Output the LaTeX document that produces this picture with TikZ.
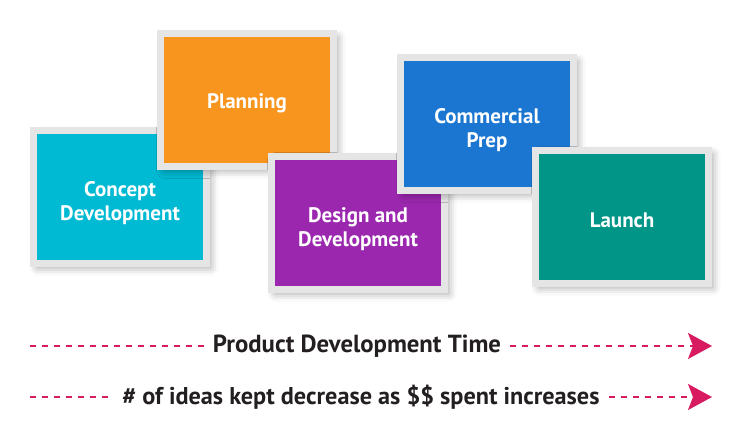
\documentclass[tikz,border=0pt]{standalone}
\usepackage{fontspec}
\setmainfont{PT Sans}
\usetikzlibrary{arrows.meta,shadows.blur}
\definecolor{frameC}{HTML}{E5E5E5}
\definecolor{conceptC}{HTML}{00BAD3}
\definecolor{planC}{HTML}{F7951F}
\definecolor{designC}{HTML}{9B27AF}
\definecolor{commC}{HTML}{1B76D1}
\definecolor{launchC}{HTML}{019587}
\definecolor{arrowC}{HTML}{D81B60}
\definecolor{txtC}{HTML}{231F20}
\tikzset{
  stagebox/.style={draw=frameC, line width=7pt, minimum width=173pt, minimum height=133pt,
    inner sep=0pt,
    blur shadow={shadow xshift=4pt, shadow yshift=-4pt, shadow blur radius=8pt, shadow opacity=38}},
  boxtext/.style={text=white, align=center, inner sep=0pt, yshift=-3pt,
    font=\fontsize{21}{24}\selectfont\bfseries},
  twoline/.style={boxtext, yshift=-3pt},
  dashline/.style={draw=arrowC, line width=2pt, dash pattern=on 6pt off 6pt},
  tiplabel/.style={text=txtC, inner xsep=9pt, inner ysep=0pt, font=\bfseries},
  headtip/.style={-{Stealth[length=24pt,width=26pt,inset=5pt]}}
}
\begin{document}
\begin{tikzpicture}[x=1pt,y=-1pt]
\useasboundingbox (0,0) rectangle (744,433);
\node[stagebox, fill=conceptC, label={[twoline]center:Concept\\Development}] (concept) at (120,197) {};
\node[stagebox, fill=planC, label={[boxtext]center:Planning}] (plan) at (247,100) {};
\node[stagebox, fill=designC, label={[twoline]center:Design and\\Development}] (design) at (358,223) {};
\node[stagebox, fill=commC, label={[twoline]center:Commercial\\Prep}] (comm) at (487,124) {};
\node[stagebox, fill=launchC, label={[boxtext]center:Launch}] (launch) at (622,217) {};
% bottom arrows
\coordinate (a1s) at (30,346);
\coordinate (a1e) at (712,346);
\coordinate (a2s) at (30,397);
\coordinate (a2e) at (712,397);
\node[tiplabel] (t1) at (357,346) {\resizebox{288pt}{!}{Product Development Time}};
\node[tiplabel] (t2) at (361,397) {\resizebox{477pt}{!}{\# of ideas kept decrease as \$\$ spent increases}};
\draw[dashline] (a1s) -- (t1.west);
\draw[dashline, headtip] (t1.east) -- (a1e);
\draw[dashline] (a2s) -- (t2.west);
\draw[dashline, headtip] (t2.east) -- (a2e);
\end{tikzpicture}
\end{document}
